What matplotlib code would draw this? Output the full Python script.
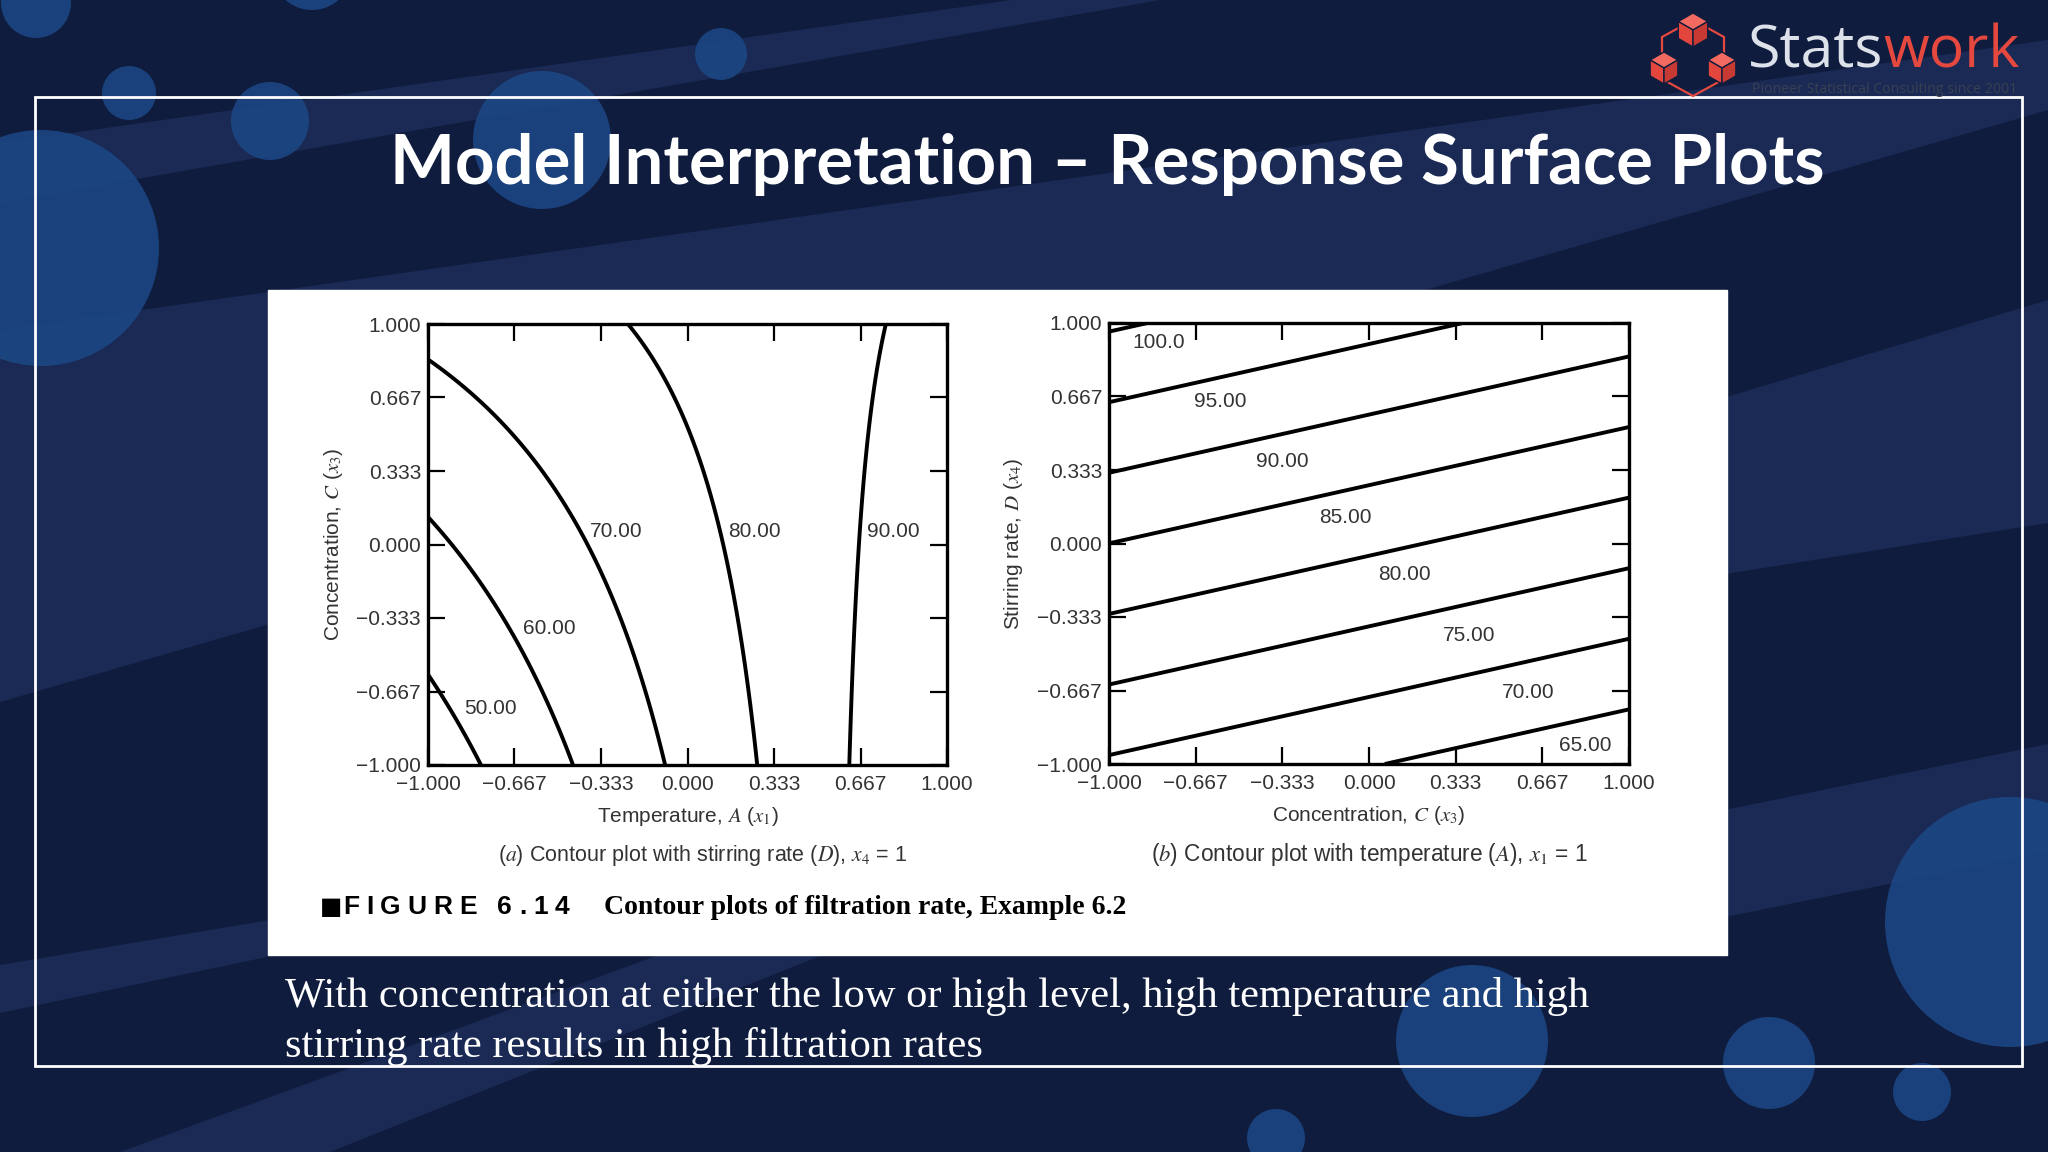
import numpy as np
import matplotlib
matplotlib.use('Agg')
import matplotlib.pyplot as plt
from matplotlib.patches import Circle, Polygon, Rectangle

plt.rcParams['mathtext.fontset'] = 'stix'

# fitted model, filtration rate (Example 6.2), coded units
b0 = 70.06
bA = 10.81
bC = 4.94
bD = 7.31
bAC = -9.06
bAD = 8.31

levels_a = [50, 60, 70, 80, 90]
labels_a = ['50.00', '60.00', '70.00', '80.00', '90.00']
levels_b = [65, 70, 75, 80, 85, 90, 95, 100]
labels_b = ['65.00', '70.00', '75.00', '80.00', '85.00', '90.00', '95.00', '100.0']

ticks = [-1.0, -0.667, -0.333, 0.0, 0.333, 0.667, 1.0]
tick_labels = ['\u22121.000', '\u22120.667', '\u22120.333', '0.000', '0.333', '0.667', '1.000']

# where the contour values are written (x, y in coded units)
pos_a = [(-0.761, -0.746), (-0.531, -0.383), (-0.276, 0.057), (0.258, 0.057), (0.794, 0.057)]
pos_b = [(0.831, -0.914), (0.611, -0.677), (0.387, -0.415), (0.136, -0.139),
         (-0.090, 0.117), (-0.333, 0.374), (-0.572, 0.642), (-0.809, 0.911)]

NAVY = '#0f1c3e'
BAND = '#1a2a54'
BUBBLE = '#1c4886'
RED = '#e5483f'
GRAY = '#333333'
SANS = ['Liberation Sans', 'DejaVu Sans']

fig = plt.figure(figsize=(20.48, 11.52), dpi=100)
rend = fig.canvas.get_renderer()

def fit_width(t, w):
    bb = t.get_window_extent(renderer=rend)
    t.set_fontsize(t.get_fontsize() * w / bb.width)
    return t

# ---- slide background (pixel coords, y down) ----
bg = fig.add_axes([0, 0, 1, 1])
bg.set_xlim(0, 2048)
bg.set_ylim(1152, 0)
bg.axis('off')
bg.add_patch(Rectangle((0, 0), 2048, 1152, color=NAVY, zorder=0))

bands = [
    [(0, 143), (1012, 0), (1160, 0), (0, 203)],
    [(0, 330), (2048, 40), (2048, 110), (0, 702)],
    [(1700, 405), (2048, 300), (2048, 523), (1700, 578)],
    [(1700, 815), (2048, 744), (2048, 852), (1700, 922)],
    [(0, 965), (300, 915), (300, 950), (0, 1013)],
    [(120, 1152), (700, 940), (860, 940), (330, 1152)],
]
for b in bands:
    bg.add_patch(Polygon(b, closed=True, color=BAND, lw=0, zorder=1))

bubbles = [(36, 3, 35), (312, -30, 40), (129, 93, 27), (270, 121, 39), (542, 140, 69),
           (721, 54, 26), (41, 248, 118), (2010, 922, 125), (1472, 1041, 76),
           (1769, 1063, 46), (1922, 1092, 29), (1276, 1138, 29)]
for cx, cy, r in bubbles:
    bg.add_patch(Circle((cx, cy), r, color=BUBBLE, alpha=0.85, lw=0, zorder=2))

bg.add_patch(Rectangle((35, 97), 1987, 969, fill=False, ec='white', lw=2, zorder=3))
bg.add_patch(Rectangle((268, 290), 1459, 665, color='white', zorder=4))

# ---- logo ----
def cube(cx, cy, s):
    c = 0.866 * s
    top = [(cx, cy - s), (cx + c, cy - 0.5 * s), (cx, cy), (cx - c, cy - 0.5 * s)]
    left = [(cx - c, cy - 0.5 * s), (cx, cy), (cx, cy + s), (cx - c, cy + 0.5 * s)]
    right = [(cx, cy), (cx + c, cy - 0.5 * s), (cx + c, cy + 0.5 * s), (cx, cy + s)]
    for face, col in [(top, '#f26a60'), (left, '#e3463d'), (right, '#c63a33')]:
        bg.add_patch(Polygon(face, closed=True, fc=col, ec=NAVY, lw=1, zorder=6))

hexa = [(1693, 20), (1662, 37), (1662, 79), (1693, 96), (1724, 79), (1724, 37)]
bg.add_patch(Polygon(hexa, closed=True, fill=False, ec=RED, lw=1.6, zorder=5))
cube(1693, 30, 17)
cube(1664, 68, 16)
cube(1722, 68, 16)

t1 = bg.text(1748, 67, 'Stats', color='#dde1ea', fontsize=44, family='Open Sans',
             ha='left', va='baseline', zorder=7)
w1 = t1.get_window_extent(renderer=rend).width
t2 = bg.text(1748 + w1, 67, 'work', color=RED, fontsize=44, family='Open Sans',
             ha='left', va='baseline', zorder=7)
scale = 272 / (w1 + t2.get_window_extent(renderer=rend).width)
t1.set_fontsize(44 * scale)
t2.set_fontsize(44 * scale)
t2.set_x(1748 + t1.get_window_extent(renderer=rend).width)
sub = bg.text(1752, 93, 'Pioneer Statistical Consulting since 2001', color='#3a4152',
              fontsize=8, family='Open Sans', ha='left', va='baseline', zorder=7)
fit_width(sub, 266)

# ---- title and note ----
title = bg.text(1107, 184, 'Model Interpretation \u2013 Response Surface Plots', color='white',
                fontsize=50, family='Lato', fontweight='bold', ha='center', va='baseline', zorder=7)
fit_width(title, 1438)

n1 = bg.text(285, 1007, 'With concentration at either the low or high level, high temperature and high',
             color='white', fontsize=30, family='Liberation Serif', ha='left', va='baseline', zorder=7)
fit_width(n1, 1305)
bg.text(285, 1057, 'stirring rate results in high filtration rates', color='white',
        fontsize=n1.get_fontsize(), family='Liberation Serif', ha='left', va='baseline', zorder=7)

# ---- figure captions inside the white panel ----
bg.text(320, 914, '\u25a0', color='black', fontsize=17, family='DejaVu Sans',
        ha='left', va='baseline', zorder=7)
letters = []
for ch in 'FIGURE 6.14':
    if ch == ' ':
        letters.append(None)
        continue
    letters.append(bg.text(0, 914, ch, color='black', fontsize=19, family=SANS,
                           fontweight='bold', ha='left', va='baseline', zorder=7))
widths = [0 if t is None else t.get_window_extent(renderer=rend).width for t in letters]
space = 14
gap = (569 - 343 - sum(widths) - space) / (len(letters) - 2)
x = 343
for t, w in zip(letters, widths):
    if t is None:
        x += space
        continue
    t.set_x(x)
    x += w + gap
cap = bg.text(604, 914, 'Contour plots of filtration rate, Example 6.2', color='black',
              fontsize=18, family='Liberation Serif', fontweight='bold',
              ha='left', va='baseline', zorder=7)
fit_width(cap, 523)

ca = bg.text(703, 861, r'($a$) Contour plot with stirring rate ($D$), $x_4$ = 1', color=GRAY,
             fontsize=15, family=SANS, ha='center', va='baseline', zorder=7)
fit_width(ca, 411)
cb = bg.text(1369, 861, r'($b$) Contour plot with temperature ($A$), $x_1$ = 1', color=GRAY,
             fontsize=15, family=SANS, ha='center', va='baseline', zorder=7)
fit_width(cb, 439)

# ---- contour panels ----
g = np.linspace(-1, 1, 201)
G1, G2 = np.meshgrid(g, g)

# (a) x4 = 1 : x1 across, x3 up
za = b0 + bA * G1 + bC * G2 + bD * 1 + bAC * G1 * G2 + bAD * G1 * 1
# (b) x1 = 1 : x3 across, x4 up
zb = b0 + bA * 1 + bC * G1 + bD * G2 + bAC * 1 * G1 + bAD * 1 * G2

def style(ax, xlab, ylab, ylabpad):
    ax.set_xlim(-1, 1)
    ax.set_ylim(-1, 1)
    ax.set_xticks(ticks)
    ax.set_yticks(ticks)
    ax.set_xticklabels(tick_labels, family=SANS)
    ax.set_yticklabels(tick_labels, family=SANS)
    ax.tick_params(direction='in', length=12, width=1.6, top=True, right=True,
                   labelsize=15, labelcolor=GRAY, pad=5)
    ax.tick_params(axis='x', pad=7)
    for s in ax.spines.values():
        s.set_linewidth(2.4)
    ax.set_xlabel(xlab, fontsize=15, color=GRAY, family=SANS, labelpad=8)
    ax.set_ylabel(ylab, fontsize=15, color=GRAY, family=SANS, labelpad=ylabpad)

ax1 = fig.add_axes([428 / 2048, 1 - 765 / 1152, 519 / 2048, 441 / 1152])
ax1.contour(G1, G2, za, levels=levels_a, colors='black', linewidths=2.8)
for (px, py), lab in zip(pos_a, labels_a):
    ax1.text(px, py, lab, fontsize=15, color=GRAY, family=SANS, ha='center', va='center')
style(ax1, r'Temperature, $A$ ($x_1$)', r'Concentration, $C$ ($x_3$)', 8)

ax2 = fig.add_axes([1109 / 2048, 1 - 764 / 1152, 520 / 2048, 441 / 1152])
ax2.contour(G1, G2, zb, levels=levels_b, colors='black', linewidths=2.8)
for (px, py), lab in zip(pos_b, labels_b):
    ax2.text(px, py, lab, fontsize=15, color=GRAY, family=SANS, ha='center', va='center')
style(ax2, r'Concentration, $C$ ($x_3$)', r'Stirring rate, $D$ ($x_4$)', 9)

fig.savefig('out.png', dpi=100)
